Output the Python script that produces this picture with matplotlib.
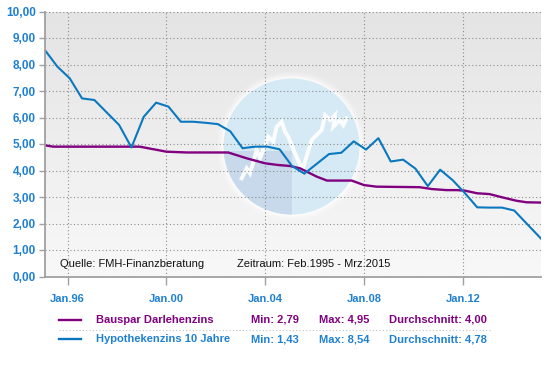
import numpy as np
import pandas as pd
import matplotlib
matplotlib.use("Agg")
import matplotlib.pyplot as plt
from matplotlib.colors import LinearSegmentedColormap
from matplotlib.patches import Ellipse, Rectangle

plt.rcParams['font.family'] = ['Liberation Sans', 'DejaVu Sans']

# Hypothekenzins 10 Jahre
hypo_months = ["1995-02", "1995-08", "1996-02", "1996-08", "1997-02", "1998-02", "1998-08",
               "1999-02", "1999-08", "2000-02", "2000-08", "2001-02", "2001-08", "2002-02",
               "2002-08", "2003-02", "2003-08", "2004-02", "2004-08", "2005-02", "2005-08",
               "2006-02", "2006-08", "2007-02", "2007-08", "2008-02", "2008-08", "2009-02",
               "2009-08", "2010-02", "2010-08", "2011-02", "2011-08", "2012-02", "2012-08",
               "2013-02", "2013-08", "2014-02", "2015-03"]
hypo_values = [8.54, 7.92, 7.48, 6.72, 6.66, 5.72, 4.87,
               6.03, 6.56, 6.41, 5.84, 5.84, 5.80, 5.75,
               5.48, 4.84, 4.90, 4.90, 4.80, 4.17, 3.88,
               4.25, 4.62, 4.67, 5.10, 4.79, 5.22, 4.34,
               4.41, 4.07, 3.41, 4.03, 3.64, 3.15, 2.61,
               2.60, 2.60, 2.49, 1.43]

# Bauspar Darlehenzins
bau_months = ["1995-02", "1995-06", "1998-12", "2000-01", "2000-11", "2002-07", "2003-04",
              "2004-01", "2004-07", "2005-01", "2005-06", "2006-02", "2006-07", "2007-07",
              "2008-01", "2008-07", "2010-04", "2010-10", "2011-05", "2011-10", "2012-02",
              "2012-08", "2013-02", "2013-08", "2014-03", "2014-08", "2015-03"]
bau_values = [4.95, 4.90, 4.90, 4.71, 4.68, 4.68, 4.46,
              4.27, 4.21, 4.17, 4.08, 3.77, 3.62, 3.62,
              3.45, 3.39, 3.37, 3.30, 3.26, 3.26, 3.24,
              3.14, 3.11, 2.99, 2.86, 2.80, 2.79]

series_names = ["Bauspar Darlehenzins", "Hypothekenzins 10 Jahre"]
series_min = ["2,79", "1,43"]
series_max = ["4,95", "8,54"]
series_avg = ["4,00", "4,78"]

xtick_years = [1996, 2000, 2004, 2008, 2012]
xtick_labels = ["Jan.96", "Jan.00", "Jan.04", "Jan.08", "Jan.12"]
ytick_values = [0, 1, 2, 3, 4, 5, 6, 7, 8, 9, 10]

PURPLE = "#800080"
BLUE = "#0a78bf"
LABEL_BLUE = "#1f80d2"


def to_year(months):
    d = pd.to_datetime(months)
    return d.year + (d.month - 1) / 12.0


W, H = 558, 380
fig = plt.figure(figsize=(W / 100, H / 100), dpi=100)
ax = fig.add_axes([45 / W, (H - 276.5) / H, 496 / W, 265 / H])

# background gradient
cmap = LinearSegmentedColormap.from_list("bg", ["#f8f8f8", "#e4e4e4"])
ax.imshow(np.linspace(0, 1, 256).reshape(-1, 1), cmap=cmap, aspect="auto",
          extent=(0, 1, 0, 1), transform=ax.transAxes, origin="lower", zorder=0)

# watermark logo
cx, cy = (291.5 - 45) / 496, (276.5 - 146.5) / 265
rw, rh = 68 / 496, 68 / 265
for k, a in [(1.10, 0.15), (1.07, 0.25), (1.04, 0.35), (1.02, 0.45)]:
    ax.add_patch(Ellipse((cx, cy), 2 * rw * k, 2 * rh * k, transform=ax.transAxes,
                         facecolor="white", edgecolor="none", alpha=a, zorder=1))
disc = Ellipse((cx, cy), 2 * rw, 2 * rh, transform=ax.transAxes,
               facecolor="#d0e8f5", edgecolor="none", alpha=0.88, zorder=1.1)
ax.add_patch(disc)
shade = Rectangle((cx - rw, cy - rh), rw, rh * 0.93, transform=ax.transAxes,
                  facecolor="#c6d8ea", edgecolor="none", alpha=0.9, zorder=1.2)
ax.add_patch(shade)
shade.set_clip_path(disc)
zz_u = [-0.733, -0.659, -0.610, -0.512, -0.463, -0.341, -0.267, -0.218, -0.145, -0.096,
        -0.047, 0.051, 0.159, 0.297, 0.444, 0.493, 0.566, 0.640, 0.615, 0.713, 0.762, 0.811]
zz_v = [-0.468, -0.321, -0.395, -0.051, -0.174, 0.145, 0.071, 0.292, 0.365, 0.218,
        0.145, -0.100, -0.346, 0.096, 0.243, 0.463, 0.390, 0.463, 0.292, 0.390, 0.316, 0.414]
ax.plot([cx + u * rw for u in zz_u], [cy + v * rh for v in zz_v], color="white",
        lw=2.8, alpha=0.95, transform=ax.transAxes, zorder=1.3, solid_joinstyle="miter")

# data lines
ax.plot(to_year(bau_months), bau_values, color=PURPLE, lw=1.7, zorder=3)
ax.plot(to_year(hypo_months), hypo_values, color=BLUE, lw=1.5, zorder=4)

ax.set_xlim(1995 + 1 / 12, 2015 + 2 / 12)
ax.set_ylim(0, 10)
ax.set_xticks(xtick_years)
ax.set_xticklabels(xtick_labels)
ax.set_yticks(ytick_values)
ax.set_yticklabels([f"{v:.2f}".replace(".", ",") for v in ytick_values])

ax.grid(True, linestyle=(0, (1, 2.2)), color="#8c8c8c", linewidth=0.8, zorder=2)
ax.set_axisbelow(False)
for s in ["top", "right"]:
    ax.spines[s].set_visible(False)
for s in ["left", "bottom"]:
    ax.spines[s].set_color("#a0a0a0")
    ax.spines[s].set_linewidth(1.3)
    ax.spines[s].set_zorder(5)
ax.tick_params(axis="x", direction="out", length=5.5, width=1, color="#a0a0a0",
               pad=7, labelsize=8, labelcolor=LABEL_BLUE)
ax.tick_params(axis="y", direction="out", length=4.5, width=1, color="#a0a0a0",
               pad=2, labelsize=8.5, labelcolor=LABEL_BLUE)
for lab in ax.get_xticklabels() + ax.get_yticklabels():
    lab.set_fontweight("bold")

# source / period notes
fig.text(60 / W, 1 - 264 / H, "Quelle: FMH-Finanzberatung", fontsize=8,
         color="#111111", va="center", ha="left")
fig.text(237 / W, 1 - 264 / H, "Zeitraum: Feb.1995 - Mrz.2015", fontsize=8,
         color="#111111", va="center", ha="left")

# legend table
row_y = [320, 339]
row_colors = [PURPLE, LABEL_BLUE]
line_colors = [PURPLE, BLUE]
for i in range(2):
    y = 1 - row_y[i] / H
    fig.add_artist(plt.Line2D([59 / W, 81 / W], [y, y], color=line_colors[i], lw=1.7,
                              transform=fig.transFigure))
    fig.text(96.5 / W, y, series_names[i], fontsize=8, fontweight="bold",
             color=row_colors[i], va="center")
    fig.text(251 / W, y, "Min: " + series_min[i], fontsize=8, fontweight="bold",
             color=row_colors[i], va="center")
    fig.text(319.3 / W, y, "Max: " + series_max[i], fontsize=8, fontweight="bold",
             color=row_colors[i], va="center")
    fig.text(389.3 / W, y, "Durchschnitt: " + series_avg[i], fontsize=8,
             fontweight="bold", color=row_colors[i], va="center")
sep_y = 1 - 329.7 / H
fig.add_artist(plt.Line2D([59 / W, 492 / W], [sep_y, sep_y], color="#c0c0c0", lw=0.8,
                          linestyle=(0, (1, 2)), transform=fig.transFigure))

fig.savefig("out.png", dpi=100)
